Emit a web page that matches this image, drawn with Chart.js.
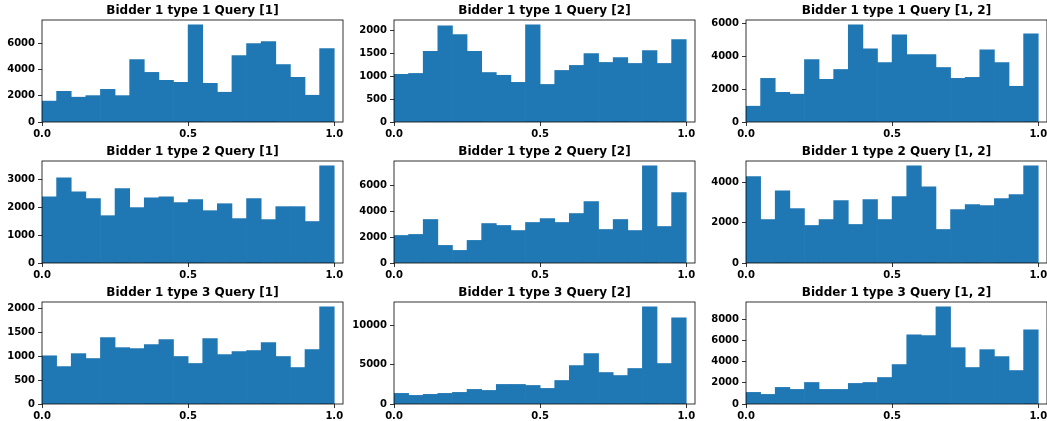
<!DOCTYPE html>
<html>
<head>
<meta charset="utf-8">
<script src="https://cdn.jsdelivr.net/npm/chart.js"></script>
<style>
    html, body { margin: 0; padding: 0; background: #fff; overflow: hidden; }
    #fig { position: relative; width: 1047px; height: 421px; }
    #fig canvas { position: absolute; }
</style>
</head>
<body>
<div id="fig"></div>
<script>
// Histogram bins (20 bins on [0, 1]) - centres of each bin
const binCenters = [0.025, 0.075, 0.125, 0.175, 0.225, 0.275, 0.325, 0.375, 0.425, 0.475,
                    0.525, 0.575, 0.625, 0.675, 0.725, 0.775, 0.825, 0.875, 0.925, 0.975];
const xTicks = [0, 0.5, 1.0];

const titles = [
    'Bidder 1 type 1 Query [1]', 'Bidder 1 type 1 Query [2]', 'Bidder 1 type 1 Query [1, 2]',
    'Bidder 1 type 2 Query [1]', 'Bidder 1 type 2 Query [2]', 'Bidder 1 type 2 Query [1, 2]',
    'Bidder 1 type 3 Query [1]', 'Bidder 1 type 3 Query [2]', 'Bidder 1 type 3 Query [1, 2]'
];

// counts per bin
const t1q1  = [1600, 2350, 1900, 2020, 2500, 2020, 4780, 3800, 3190, 3040, 7440, 2960, 2280, 5090, 6000, 6150, 4400, 3420, 2050, 5620];
const t1q2  = [1040, 1060, 1540, 2100, 1910, 1540, 1080, 1020, 865, 2120, 820, 1125, 1235, 1495, 1300, 1405, 1278, 1560, 1278, 1798];
const t1q12 = [960, 2650, 1800, 1690, 3790, 2590, 3190, 5900, 4450, 3610, 5300, 4090, 4090, 3310, 2650, 2710, 4390, 3610, 2170, 5360];
const t2q1  = [2380, 3060, 2560, 2310, 1700, 2670, 1990, 2345, 2380, 2170, 2275, 1880, 2130, 1595, 2310, 1560, 2025, 2025, 1490, 3490];
const t2q2  = [2120, 2200, 3350, 1355, 970, 1740, 3040, 2890, 2500, 3120, 3420, 3120, 3810, 4730, 2580, 3350, 2500, 7480, 2810, 5420];
const t2q12 = [4300, 2165, 3600, 2710, 1870, 2165, 3110, 1920, 3160, 2165, 3305, 4840, 3800, 1670, 2660, 2910, 2860, 3210, 3405, 4840];
const t3q1  = [1005, 780, 1050, 948, 1385, 1175, 1155, 1240, 1343, 990, 845, 1363, 1030, 1093, 1114, 1280, 990, 760, 1135, 2025];
const t3q2  = [1345, 1090, 1220, 1345, 1470, 1850, 1720, 2480, 2480, 2350, 1975, 2980, 4870, 6390, 3990, 3610, 4500, 12310, 5130, 10920];
const t3q12 = [1095, 905, 1565, 1375, 2030, 1375, 1375, 1940, 2030, 2500, 3720, 6530, 6440, 9160, 5310, 3440, 5125, 4470, 3155, 7000];

const seriesList = [t1q1, t1q2, t1q12, t2q1, t2q2, t2q12, t3q1, t3q2, t3q12];

const yTickList = [
    [0, 2000, 4000, 6000],
    [0, 500, 1000, 1500, 2000],
    [0, 2000, 4000, 6000],
    [0, 1000, 2000, 3000],
    [0, 2000, 4000, 6000],
    [0, 2000, 4000],
    [0, 500, 1000, 1500, 2000],
    [0, 5000, 10000],
    [0, 2000, 4000, 6000, 8000]
];

// axes placement on the page
const colLeft = [42, 394, 746];
const rowTop = [20, 161, 302];
const axW = 301, axH = 102;
const padL = 44, padT = 20, padR = 3, padB = 18;

const barColor = '#1f77b4';
const tickFont = { family: '"DejaVu Sans", sans-serif', size: 10, weight: 'bold' };

const framePlugin = {
    id: 'frame',
    afterDraw(chart, args, opts) {
        const a = chart.chartArea;
        const ctx = chart.ctx;
        ctx.save();
        ctx.strokeStyle = '#000';
        ctx.lineWidth = 0.8;
        ctx.strokeRect(a.left, a.top, a.right - a.left, a.bottom - a.top);
        // title above the axes
        ctx.fillStyle = '#000';
        ctx.font = 'bold 12px "DejaVu Sans", sans-serif';
        ctx.textAlign = 'center';
        ctx.textBaseline = 'alphabetic';
        ctx.fillText(opts.text, (a.left + a.right) / 2, a.top - 6);
        ctx.restore();
    }
};

function drawPanel(i) {
    const col = i % 3, row = Math.floor(i / 3);
    const counts = seriesList[i];
    const yTicks = yTickList[i];
    const W = padL + axW + padR, H = padT + axH + padB;

    const cv = document.createElement('canvas');
    cv.width = W; cv.height = H;
    cv.style.width = W + 'px'; cv.style.height = H + 'px';
    cv.style.left = (colLeft[col] - padL) + 'px';
    cv.style.top = (rowTop[row] - padT) + 'px';
    document.getElementById('fig').appendChild(cv);

    new Chart(cv, {
        type: 'bar',
        data: {
            datasets: [{
                data: binCenters.map((x, k) => ({ x: x, y: counts[k] })),
                backgroundColor: barColor,
                borderWidth: 0,
                barPercentage: 1,
                categoryPercentage: 1
            }]
        },
        options: {
            responsive: false,
            animation: false,
            layout: { padding: { left: 0, right: padR, top: padT, bottom: 0 } },
            plugins: {
                legend: { display: false },
                tooltip: { enabled: false },
                frame: { text: titles[i] }
            },
            scales: {
                x: {
                    type: 'linear',
                    min: 0,
                    max: 1.03,
                    offset: false,
                    grid: { display: true, offset: false, drawOnChartArea: false, tickLength: 4, color: '#000', lineWidth: 0.8 },
                    border: { display: false },
                    ticks: {
                        color: '#000', font: tickFont, padding: 2, maxRotation: 0,
                        callback: v => v.toFixed(1)
                    },
                    afterBuildTicks: s => { s.ticks = xTicks.map(v => ({ value: v })); },
                    afterFit: s => { s.height = padB; s.paddingLeft = 0; s.paddingRight = 0; }
                },
                y: {
                    type: 'linear',
                    min: 0,
                    max: Math.max(...counts) * 1.05,
                    grid: { display: true, offset: false, drawOnChartArea: false, tickLength: 4, color: '#000', lineWidth: 0.8 },
                    border: { display: false },
                    ticks: {
                        color: '#000', font: tickFont, padding: 3,
                        callback: v => String(v)
                    },
                    afterBuildTicks: s => { s.ticks = yTicks.map(v => ({ value: v })); },
                    afterFit: s => { s.width = padL; s.paddingTop = 0; s.paddingBottom = 0; }
                }
            }
        },
        plugins: [framePlugin]
    });
}

for (let i = 0; i < 9; i++) drawPanel(i);
</script>
</body>
</html>
